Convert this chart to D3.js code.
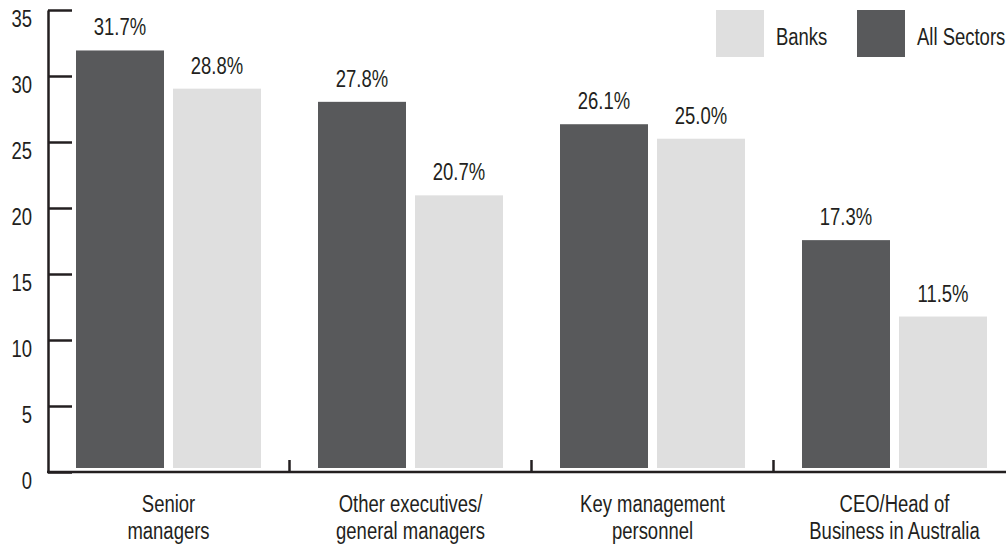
<!DOCTYPE html>
<html>
<head>
<meta charset="utf-8">
<script src="https://cdn.jsdelivr.net/npm/d3@7"></script>
<style>
  html, body { margin: 0; padding: 0; background: #fff; }
  svg { display: block; }
  text { font-family: "Liberation Sans", Arial, sans-serif; fill: #231f20; }
</style>
</head>
<body>
<svg id="chart" width="1006" height="547"></svg>
<script>
const categories = [
  ["Senior", "managers"],
  ["Other executives/", "general managers"],
  ["Key management", "personnel"],
  ["CEO/Head of", "Business in Australia"]
];
const seriesNames = ["All Sectors", "Banks"];
const allSectors = [31.7, 27.8, 26.1, 17.3];
const banks = [28.8, 20.7, 25.0, 11.5];
const yTicks = [0, 5, 10, 15, 20, 25, 30, 35];
const legendOrder = ["Banks", "All Sectors"];

const colors = { "All Sectors": "#58595b", "Banks": "#dfdfdf" };
const ink = "#231f20";
const fontSize = 24;
const sx = 0.77; // horizontal condensing of text

const svg = d3.select("#chart");
const catKeys = categories.map((c, i) => i);

const x = d3.scaleBand().domain(catKeys).range([47.5, 1015.5]).paddingInner(0).paddingOuter(0);
const xs = d3.scaleBand().domain(seriesNames).range([28.5, 213.5]).paddingInner(0.0928).paddingOuter(0);
const y = d3.scaleLinear().domain([0, 35]).range([472, 10]);
const yBar = d3.scaleLinear().domain([0, 35]).range([468, 7]);

const values = { "All Sectors": allSectors, "Banks": banks };

function condensedText(parent, tx, ty, anchor) {
  return parent.append("g")
    .attr("transform", `translate(${tx},${ty}) scale(${sx},1)`)
    .append("text")
    .attr("text-anchor", anchor)
    .style("font-size", fontSize + "px");
}

// bars
const groups = svg.append("g").selectAll("g").data(catKeys).join("g")
  .attr("transform", d => `translate(${x(d)},0)`);

groups.each(function(i) {
  const g = d3.select(this);
  seriesNames.forEach(s => {
    const v = values[s][i];
    g.append("rect")
      .attr("x", xs(s))
      .attr("width", xs.bandwidth())
      .attr("y", yBar(v))
      .attr("height", yBar(0) - yBar(v))
      .attr("fill", colors[s]);
    condensedText(g, xs(s) + xs.bandwidth() / 2, yBar(v) - 15, "middle")
      .text(v.toFixed(1) + "%");
  });
});

// y axis
const yAxis = d3.axisLeft(y).tickValues(yTicks).tickSizeInner(-24).tickSizeOuter(0).tickPadding(16);
const gy = svg.append("g").attr("transform", "translate(48,0)").call(yAxis);
gy.attr("font-family", null).attr("font-size", null);
gy.select(".domain").attr("stroke", ink).attr("stroke-width", 2.5);
gy.selectAll(".tick line").attr("stroke", ink).attr("stroke-width", 2.5);
gy.selectAll(".tick text")
  .attr("x", -16 / sx)
  .attr("dy", "16px")
  .attr("transform", `scale(${sx},1)`)
  .style("font-size", fontSize + "px")
  .attr("fill", ink);

// x axis baseline
svg.append("line")
  .attr("x1", 47).attr("x2", x.range()[1])
  .attr("y1", y(0)).attr("y2", y(0))
  .attr("stroke", ink).attr("stroke-width", 2.5);

// separators between groups
svg.append("g").selectAll("line").data(catKeys.slice(1)).join("line")
  .attr("x1", d => x(d)).attr("x2", d => x(d))
  .attr("y1", y(0)).attr("y2", y(0) - 12)
  .attr("stroke", ink).attr("stroke-width", 2.5);

// category labels
const catG = svg.append("g");
catKeys.forEach(i => {
  categories[i].forEach((line, j) => {
    condensedText(catG, x(i) + x.bandwidth() / 2, 512 + j * 27, "middle").text(line);
  });
});

// legend
const legendX = d3.scalePoint().domain(legendOrder).range([716, 857]);
const lg = svg.append("g");
legendOrder.forEach(name => {
  lg.append("rect")
    .attr("x", legendX(name)).attr("y", 10)
    .attr("width", 48).attr("height", 47)
    .attr("fill", colors[name]);
  condensedText(lg, legendX(name) + 60, 45, "start").text(name);
});
</script>
</body>
</html>
